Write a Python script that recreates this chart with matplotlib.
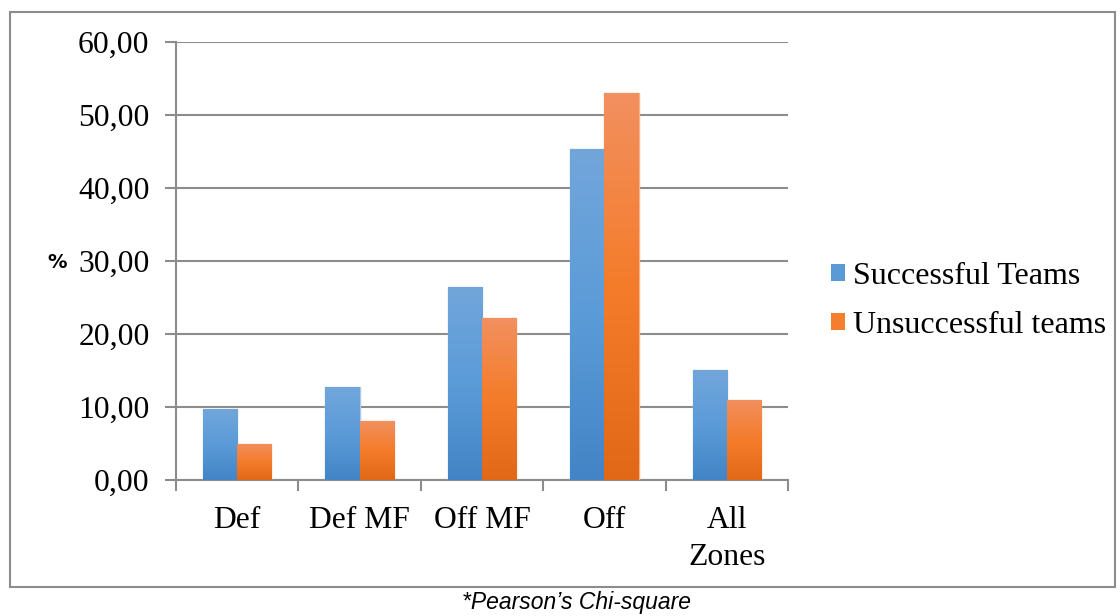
import numpy as np
import matplotlib
matplotlib.use("Agg")
import matplotlib.pyplot as plt
from matplotlib.patches import Rectangle
from matplotlib.colors import LinearSegmentedColormap

categories = ["Def", "Def MF", "Off MF", "Off", "All\nZones"]
successful = [9.75, 12.71, 26.45, 45.31, 15.01]
unsuccessful = [4.94, 8.14, 22.24, 53.04, 10.98]
series_names = ["Successful Teams", "Unsuccessful teams"]
yticks = [0, 10, 20, 30, 40, 50, 60]
ytick_labels = ["0,00", "10,00", "20,00", "30,00", "40,00", "50,00", "60,00"]

W, H = 1120, 616
fig = plt.figure(figsize=(W / 100, H / 100), dpi=100)
serif = ["Liberation Serif", "DejaVu Serif"]
fs = 22.8

ax = fig.add_axes([176 / W, 1 - 480 / H, (788 - 176) / W, (480 - 42) / H])

x = np.arange(len(categories))
bw = 0.28
blue_mid = "#5B9BD5"
orange_mid = "#F47D2E"
cmaps = [
    LinearSegmentedColormap.from_list("b", ["#4384C6", "#5B9BD8", "#72A6DB"]),
    LinearSegmentedColormap.from_list("o", ["#E06816", "#F47C2A", "#F29060"]),
]
edges = ["#A9C8EA", "#F6B48E"]
grad = np.linspace(0, 1, 256).reshape(-1, 1)

all_bars = []
for i, (vals, col) in enumerate([(successful, blue_mid), (unsuccessful, orange_mid)]):
    offs = (i - 0.5) * bw
    bars = ax.bar(x + offs, vals, width=bw, color=col, edgecolor=edges[i],
                  linewidth=1.0, label=series_names[i], zorder=3)
    all_bars.append(bars)
    for b in bars:
        bx, by = b.get_x(), b.get_y()
        bwid, bh = b.get_width(), b.get_height()
        im = ax.imshow(grad, cmap=cmaps[i], aspect="auto", origin="lower",
                       extent=[bx, bx + bwid, by, by + bh], zorder=3.5,
                       interpolation="bilinear")
        im.set_clip_path(b)

ax.set_xlim(-0.5, len(categories) - 0.5)
ax.set_ylim(0, 60)

gridc = "#8C8C8C"
ax.set_yticks(yticks)
ax.set_yticklabels(ytick_labels, fontfamily=serif, fontsize=fs)
ax.yaxis.grid(True, color=gridc, linewidth=1.5, zorder=0)
ax.set_axisbelow(True)

ax.set_xticks(x)
ax.set_xticklabels(categories, fontfamily=serif, fontsize=fs, linespacing=1.35)
ax.set_xticks(np.arange(-0.5, len(categories)), minor=True)
ax.tick_params(axis="x", which="major", length=0, pad=19)
ax.tick_params(axis="x", which="minor", length=8, width=1.5, color=gridc, direction="out")
ax.tick_params(axis="y", length=8, width=1.5, color=gridc, direction="out", pad=11)

for s in ["top", "right"]:
    ax.spines[s].set_visible(False)
for s in ["left", "bottom"]:
    ax.spines[s].set_color(gridc)
    ax.spines[s].set_linewidth(1.5)

fig.text(57 / W, 1 - 263 / H, "%", fontsize=14, fontweight="bold",
         fontfamily="DejaVu Sans", ha="center", va="center")

leg = fig.legend(handles=[all_bars[0], all_bars[1]], labels=series_names,
                 loc="center left", bbox_to_anchor=(831 / W, 1 - 301 / H),
                 frameon=False, prop={"family": serif, "size": 23.0},
                 handlelength=0.45, handleheight=0.45, handletextpad=0.25,
                 labelspacing=0.62, borderaxespad=0, borderpad=0)
for h in leg.legend_handles:
    h.set_edgecolor("none")

fig.patches.append(Rectangle((10 / W, 1 - 587 / H), (1115 - 10) / W, (587 - 12) / H,
                             transform=fig.transFigure, fill=False,
                             edgecolor="#8C8C8C", linewidth=1.5))

fig.text(576 / W, 1 - 603 / H, "*Pearson\u2019s Chi-square", fontsize=16.5,
         fontstyle="italic", fontfamily="Liberation Sans", ha="center", va="center")

fig.savefig("out.png", dpi=100)
